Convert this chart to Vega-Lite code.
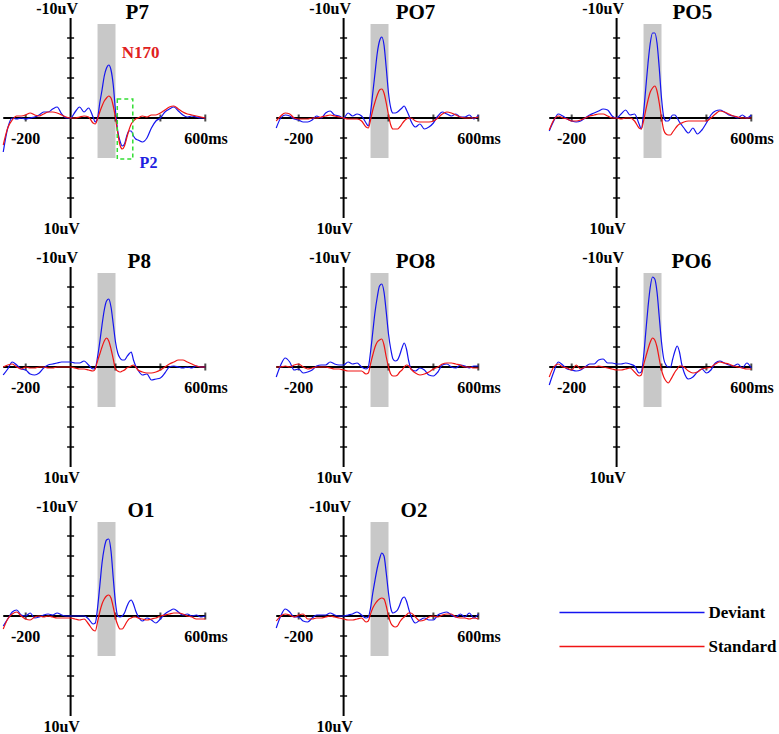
{
"$schema":"https://vega.github.io/schema/vega-lite/v6.json",
"background":"white",
"padding":0,
"config":{"view":{"stroke":null},"axis":{"disable":true},
"legend":{"orient":"none","legendX":557,"legendY":603,"padding":0,"symbolType":"M-10.36,0H10.36","symbolSize":196,"symbolOffset":65.5,"symbolStrokeWidth":1.5,"labelFont":"Liberation Serif","labelFontWeight":"bold","labelFontSize":17,"labelColor":"#000","labelOffset":68,"rowPadding":16}},
"datasets":{
"box":[{"a":120,"b":200,"lo":-9.4,"hi":4.0}],
"ax":[{"x1":-300,"x2":600,"y1":0,"y2":0},{"x1":0,"x2":0,"y1":-10,"y2":10}],
"yt":[{"v":-8},{"v":-6},{"v":-4},{"v":-2},{"v":2},{"v":4},{"v":6},{"v":8}],
"xt":[{"t":-200},{"t":200},{"t":400},{"t":600}],
"lab":[{"t":-60,"v":-10.4,"s":"-10uV"},{"t":-40,"v":11.6,"s":"10uV"},{"t":-200,"v":2.6,"s":"-200"},{"t":603,"v":2.6,"s":"600ms"}],
"erp":[
{"c":"P7","t":-300,"d":3.4,"s":2.7},{"c":"P7","t":-280,"d":1.0,"s":1.0},{"c":"P7","t":-260,"d":0,"s":0.2},{"c":"P7","t":-240,"d":0.1,"s":-0.2},{"c":"P7","t":-220,"d":0,"s":-0.2},{"c":"P7","t":-200,"d":0.1,"s":-0.3},{"c":"P7","t":-180,"d":0,"s":-0.5},{"c":"P7","t":-160,"d":-0.1,"s":-0.3},{"c":"P7","t":-140,"d":-0.3,"s":-0.2},{"c":"P7","t":-120,"d":-0.6,"s":-0.4},{"c":"P7","t":-100,"d":-0.6,"s":-0.6},{"c":"P7","t":-80,"d":-0.9,"s":-0.6},{"c":"P7","t":-60,"d":-1.1,"s":-0.5},{"c":"P7","t":-40,"d":-0.4,"s":-0.3},{"c":"P7","t":-20,"d":0,"s":-0.1},{"c":"P7","t":0,"d":0,"s":0},{"c":"P7","t":20,"d":-0.6,"s":0},{"c":"P7","t":40,"d":-1.1,"s":-0.1},{"c":"P7","t":60,"d":-0.6,"s":-0.2},{"c":"P7","t":80,"d":-1.0,"s":-0.1},{"c":"P7","t":100,"d":-0.1,"s":0.5},{"c":"P7","t":110,"d":0.4,"s":0.6},{"c":"P7","t":120,"d":0,"s":0.1},{"c":"P7","t":130,"d":-1.5,"s":-0.6},{"c":"P7","t":140,"d":-2.8,"s":-1.2},{"c":"P7","t":150,"d":-4.2,"s":-1.7},{"c":"P7","t":160,"d":-5.0,"s":-2.0},{"c":"P7","t":170,"d":-5.3,"s":-2.2},{"c":"P7","t":180,"d":-4.8,"s":-2.0},{"c":"P7","t":190,"d":-3.3,"s":-1.2},{"c":"P7","t":200,"d":-0.7,"s":0},{"c":"P7","t":210,"d":1.3,"s":1.5},{"c":"P7","t":220,"d":2.3,"s":2.7},{"c":"P7","t":230,"d":2.8,"s":3.1},{"c":"P7","t":240,"d":2.6,"s":2.8},{"c":"P7","t":250,"d":1.8,"s":2.0},{"c":"P7","t":260,"d":1.3,"s":1.2},{"c":"P7","t":270,"d":1.3,"s":0.6},{"c":"P7","t":280,"d":1.8,"s":0.3},{"c":"P7","t":290,"d":2.1,"s":0.1},{"c":"P7","t":300,"d":2.2,"s":0},{"c":"P7","t":320,"d":2.4,"s":-0.2},{"c":"P7","t":340,"d":2.0,"s":-0.1},{"c":"P7","t":360,"d":1.0,"s":-0.3},{"c":"P7","t":380,"d":0.3,"s":-0.3},{"c":"P7","t":400,"d":0,"s":-0.5},{"c":"P7","t":420,"d":-0.6,"s":-0.8},{"c":"P7","t":440,"d":-0.9,"s":-1.1},{"c":"P7","t":460,"d":-1.1,"s":-1.2},{"c":"P7","t":480,"d":-0.7,"s":-0.9},{"c":"P7","t":500,"d":-0.3,"s":-0.6},{"c":"P7","t":520,"d":-0.1,"s":-0.4},{"c":"P7","t":540,"d":-0.2,"s":-0.3},{"c":"P7","t":560,"d":-0.1,"s":-0.2},{"c":"P7","t":580,"d":0,"s":-0.1},{"c":"P7","t":600,"d":0,"s":0},
{"c":"PO7","t":-300,"d":1.0,"s":0.3},{"c":"PO7","t":-280,"d":0,"s":-0.2},{"c":"PO7","t":-260,"d":-0.3,"s":-0.5},{"c":"PO7","t":-240,"d":-0.2,"s":-0.4},{"c":"PO7","t":-220,"d":0.1,"s":0},{"c":"PO7","t":-200,"d":0.2,"s":0.1},{"c":"PO7","t":-180,"d":0.4,"s":0.1},{"c":"PO7","t":-160,"d":0.4,"s":0.1},{"c":"PO7","t":-140,"d":0.2,"s":0},{"c":"PO7","t":-120,"d":-0.2,"s":0},{"c":"PO7","t":-100,"d":0,"s":-0.1},{"c":"PO7","t":-80,"d":-0.5,"s":-0.2},{"c":"PO7","t":-60,"d":-0.7,"s":-0.3},{"c":"PO7","t":-40,"d":-0.3,"s":-0.2},{"c":"PO7","t":-20,"d":-0.2,"s":-0.1},{"c":"PO7","t":0,"d":0,"s":0},{"c":"PO7","t":20,"d":-0.5,"s":0.1},{"c":"PO7","t":40,"d":-0.2,"s":0.1},{"c":"PO7","t":60,"d":-0.4,"s":0.1},{"c":"PO7","t":80,"d":-0.2,"s":0.3},{"c":"PO7","t":100,"d":0.5,"s":0.9},{"c":"PO7","t":110,"d":0.8,"s":1.0},{"c":"PO7","t":120,"d":-0.5,"s":0.2},{"c":"PO7","t":130,"d":-2.5,"s":-0.8},{"c":"PO7","t":140,"d":-4.5,"s":-1.6},{"c":"PO7","t":150,"d":-6.5,"s":-2.3},{"c":"PO7","t":160,"d":-7.7,"s":-2.8},{"c":"PO7","t":170,"d":-8.1,"s":-2.9},{"c":"PO7","t":180,"d":-7.3,"s":-2.5},{"c":"PO7","t":190,"d":-5.0,"s":-1.5},{"c":"PO7","t":200,"d":-2.5,"s":-0.3},{"c":"PO7","t":210,"d":-1.0,"s":0.7},{"c":"PO7","t":220,"d":-0.5,"s":1.1},{"c":"PO7","t":230,"d":-0.5,"s":1.1},{"c":"PO7","t":240,"d":-0.6,"s":1.1},{"c":"PO7","t":250,"d":-0.8,"s":0.9},{"c":"PO7","t":260,"d":-1.0,"s":0.6},{"c":"PO7","t":270,"d":-1.2,"s":0.3},{"c":"PO7","t":280,"d":-0.8,"s":0.1},{"c":"PO7","t":290,"d":-0.3,"s":0},{"c":"PO7","t":300,"d":0.3,"s":0},{"c":"PO7","t":320,"d":0.9,"s":0.3},{"c":"PO7","t":340,"d":0.6,"s":0.4},{"c":"PO7","t":360,"d":1.1,"s":0.4},{"c":"PO7","t":380,"d":0.9,"s":0.4},{"c":"PO7","t":400,"d":0.5,"s":0.3},{"c":"PO7","t":420,"d":-0.2,"s":0},{"c":"PO7","t":440,"d":-0.6,"s":-0.4},{"c":"PO7","t":460,"d":-0.4,"s":-0.6},{"c":"PO7","t":480,"d":-0.2,"s":-0.5},{"c":"PO7","t":500,"d":-0.4,"s":-0.3},{"c":"PO7","t":520,"d":-0.1,"s":-0.1},{"c":"PO7","t":540,"d":-0.1,"s":0},{"c":"PO7","t":560,"d":-0.3,"s":0},{"c":"PO7","t":580,"d":0.1,"s":0},{"c":"PO7","t":600,"d":-0.3,"s":-0.1},
{"c":"PO5","t":-300,"d":1.3,"s":1.2},{"c":"PO5","t":-280,"d":0.3,"s":0.2},{"c":"PO5","t":-260,"d":-0.4,"s":-0.2},{"c":"PO5","t":-240,"d":-0.2,"s":0},{"c":"PO5","t":-220,"d":0.1,"s":0.1},{"c":"PO5","t":-200,"d":0.3,"s":0.3},{"c":"PO5","t":-180,"d":0.4,"s":0.3},{"c":"PO5","t":-160,"d":0.3,"s":0.2},{"c":"PO5","t":-140,"d":0,"s":0},{"c":"PO5","t":-120,"d":-0.3,"s":-0.2},{"c":"PO5","t":-100,"d":-0.5,"s":-0.3},{"c":"PO5","t":-80,"d":-0.7,"s":-0.4},{"c":"PO5","t":-60,"d":-0.9,"s":-0.4},{"c":"PO5","t":-40,"d":-0.8,"s":-0.2},{"c":"PO5","t":-20,"d":-0.2,"s":0},{"c":"PO5","t":0,"d":0,"s":0},{"c":"PO5","t":20,"d":-0.4,"s":0.1},{"c":"PO5","t":40,"d":-0.8,"s":0},{"c":"PO5","t":60,"d":-0.3,"s":0},{"c":"PO5","t":80,"d":-0.4,"s":0.3},{"c":"PO5","t":100,"d":0.6,"s":1.0},{"c":"PO5","t":110,"d":1.1,"s":1.1},{"c":"PO5","t":120,"d":-0.5,"s":0.3},{"c":"PO5","t":130,"d":-3.0,"s":-0.8},{"c":"PO5","t":140,"d":-5.5,"s":-1.8},{"c":"PO5","t":150,"d":-7.5,"s":-2.6},{"c":"PO5","t":160,"d":-8.5,"s":-3.0},{"c":"PO5","t":170,"d":-8.5,"s":-3.2},{"c":"PO5","t":180,"d":-7.5,"s":-2.7},{"c":"PO5","t":190,"d":-5.0,"s":-1.5},{"c":"PO5","t":200,"d":-2.0,"s":0},{"c":"PO5","t":210,"d":-0.1,"s":1.2},{"c":"PO5","t":220,"d":0.3,"s":1.6},{"c":"PO5","t":230,"d":0.3,"s":1.7},{"c":"PO5","t":240,"d":0,"s":1.7},{"c":"PO5","t":250,"d":-0.3,"s":1.4},{"c":"PO5","t":260,"d":-0.3,"s":1.1},{"c":"PO5","t":270,"d":0,"s":0.8},{"c":"PO5","t":280,"d":0.4,"s":0.6},{"c":"PO5","t":290,"d":0.7,"s":0.5},{"c":"PO5","t":300,"d":1.0,"s":0.4},{"c":"PO5","t":320,"d":1.5,"s":0.3},{"c":"PO5","t":340,"d":1.0,"s":0.3},{"c":"PO5","t":360,"d":1.6,"s":0.3},{"c":"PO5","t":380,"d":1.2,"s":0.3},{"c":"PO5","t":400,"d":0.5,"s":0.3},{"c":"PO5","t":420,"d":-0.3,"s":0},{"c":"PO5","t":440,"d":-0.7,"s":-0.4},{"c":"PO5","t":460,"d":-0.8,"s":-0.7},{"c":"PO5","t":480,"d":-0.6,"s":-0.6},{"c":"PO5","t":500,"d":-0.3,"s":-0.4},{"c":"PO5","t":520,"d":-0.2,"s":-0.2},{"c":"PO5","t":540,"d":0,"s":-0.1},{"c":"PO5","t":560,"d":-0.3,"s":0},{"c":"PO5","t":580,"d":0,"s":0},{"c":"PO5","t":600,"d":-0.3,"s":0},
{"c":"P8","t":-300,"d":0.8,"s":0},{"c":"P8","t":-280,"d":0.2,"s":-0.2},{"c":"P8","t":-260,"d":-0.5,"s":-0.3},{"c":"P8","t":-240,"d":-0.2,"s":0},{"c":"P8","t":-220,"d":0.2,"s":0.2},{"c":"P8","t":-200,"d":0.3,"s":0},{"c":"P8","t":-180,"d":0.7,"s":0.1},{"c":"P8","t":-160,"d":0.8,"s":0.1},{"c":"P8","t":-140,"d":0.6,"s":0},{"c":"P8","t":-120,"d":0.1,"s":0},{"c":"P8","t":-100,"d":-0.2,"s":0.1},{"c":"P8","t":-80,"d":-0.3,"s":0.1},{"c":"P8","t":-60,"d":-0.4,"s":0},{"c":"P8","t":-40,"d":-0.5,"s":0},{"c":"P8","t":-20,"d":-0.5,"s":0},{"c":"P8","t":0,"d":-0.5,"s":0},{"c":"P8","t":20,"d":-0.4,"s":0.1},{"c":"P8","t":40,"d":-0.4,"s":0.2},{"c":"P8","t":60,"d":-0.6,"s":0.2},{"c":"P8","t":80,"d":-0.2,"s":0.3},{"c":"P8","t":100,"d":0.2,"s":0.4},{"c":"P8","t":110,"d":0.1,"s":0.2},{"c":"P8","t":120,"d":-1.0,"s":-0.6},{"c":"P8","t":130,"d":-2.5,"s":-1.3},{"c":"P8","t":140,"d":-4.2,"s":-2.0},{"c":"P8","t":150,"d":-5.7,"s":-2.6},{"c":"P8","t":160,"d":-6.6,"s":-2.9},{"c":"P8","t":170,"d":-6.8,"s":-2.6},{"c":"P8","t":180,"d":-6.0,"s":-1.8},{"c":"P8","t":190,"d":-4.3,"s":-0.8},{"c":"P8","t":200,"d":-2.5,"s":0.2},{"c":"P8","t":210,"d":-1.4,"s":0.4},{"c":"P8","t":220,"d":-0.9,"s":0.5},{"c":"P8","t":230,"d":-0.7,"s":0.4},{"c":"P8","t":240,"d":-0.7,"s":0.3},{"c":"P8","t":250,"d":-1.0,"s":0.1},{"c":"P8","t":260,"d":-1.3,"s":0},{"c":"P8","t":270,"d":-1.5,"s":-0.1},{"c":"P8","t":280,"d":-0.7,"s":-0.2},{"c":"P8","t":290,"d":-0.1,"s":0},{"c":"P8","t":300,"d":0.3,"s":0.3},{"c":"P8","t":320,"d":0.8,"s":0.5},{"c":"P8","t":340,"d":0.7,"s":0.6},{"c":"P8","t":360,"d":1.3,"s":0.6},{"c":"P8","t":380,"d":1.2,"s":0.5},{"c":"P8","t":400,"d":1.1,"s":0.3},{"c":"P8","t":420,"d":0.6,"s":0},{"c":"P8","t":440,"d":0,"s":-0.3},{"c":"P8","t":460,"d":-0.1,"s":-0.5},{"c":"P8","t":480,"d":0,"s":-0.7},{"c":"P8","t":500,"d":0.1,"s":-0.7},{"c":"P8","t":520,"d":0,"s":-0.5},{"c":"P8","t":540,"d":0.1,"s":-0.3},{"c":"P8","t":560,"d":-0.1,"s":-0.1},{"c":"P8","t":580,"d":0,"s":0},{"c":"P8","t":600,"d":0,"s":0},
{"c":"PO8","t":-300,"d":1.0,"s":0},{"c":"PO8","t":-280,"d":-0.2,"s":0},{"c":"PO8","t":-260,"d":-0.9,"s":-0.1},{"c":"PO8","t":-240,"d":-0.5,"s":0},{"c":"PO8","t":-220,"d":0.3,"s":-0.2},{"c":"PO8","t":-200,"d":0.2,"s":-0.3},{"c":"PO8","t":-180,"d":0.6,"s":0},{"c":"PO8","t":-160,"d":0.5,"s":0.2},{"c":"PO8","t":-140,"d":0.3,"s":0.1},{"c":"PO8","t":-120,"d":-0.1,"s":0},{"c":"PO8","t":-100,"d":-0.2,"s":0},{"c":"PO8","t":-80,"d":-0.2,"s":0},{"c":"PO8","t":-60,"d":-0.5,"s":0.1},{"c":"PO8","t":-40,"d":-0.3,"s":0.2},{"c":"PO8","t":-20,"d":-0.2,"s":0.2},{"c":"PO8","t":0,"d":-0.2,"s":0.3},{"c":"PO8","t":20,"d":-0.5,"s":0.4},{"c":"PO8","t":40,"d":-0.3,"s":0.4},{"c":"PO8","t":60,"d":-0.4,"s":0.4},{"c":"PO8","t":80,"d":0,"s":0.4},{"c":"PO8","t":100,"d":0.2,"s":0.7},{"c":"PO8","t":110,"d":0,"s":0.6},{"c":"PO8","t":120,"d":-1.5,"s":-0.3},{"c":"PO8","t":130,"d":-3.5,"s":-1.2},{"c":"PO8","t":140,"d":-5.5,"s":-2.0},{"c":"PO8","t":150,"d":-7.0,"s":-2.5},{"c":"PO8","t":160,"d":-8.1,"s":-2.7},{"c":"PO8","t":170,"d":-8.3,"s":-2.8},{"c":"PO8","t":180,"d":-7.5,"s":-2.2},{"c":"PO8","t":190,"d":-5.5,"s":-1.0},{"c":"PO8","t":200,"d":-3.3,"s":0},{"c":"PO8","t":210,"d":-1.8,"s":0.7},{"c":"PO8","t":220,"d":-0.8,"s":0.9},{"c":"PO8","t":230,"d":-0.6,"s":0.9},{"c":"PO8","t":240,"d":-0.7,"s":0.8},{"c":"PO8","t":250,"d":-1.2,"s":0.5},{"c":"PO8","t":260,"d":-1.9,"s":0.3},{"c":"PO8","t":270,"d":-2.4,"s":0},{"c":"PO8","t":280,"d":-1.8,"s":-0.2},{"c":"PO8","t":290,"d":-0.6,"s":-0.1},{"c":"PO8","t":300,"d":0.2,"s":0.2},{"c":"PO8","t":320,"d":0.4,"s":0.6},{"c":"PO8","t":340,"d":0.1,"s":0.8},{"c":"PO8","t":360,"d":0.3,"s":0.7},{"c":"PO8","t":380,"d":0.8,"s":0.5},{"c":"PO8","t":400,"d":0.9,"s":0.2},{"c":"PO8","t":420,"d":0.5,"s":0},{"c":"PO8","t":440,"d":-0.2,"s":-0.3},{"c":"PO8","t":460,"d":-0.3,"s":-0.4},{"c":"PO8","t":480,"d":0,"s":-0.4},{"c":"PO8","t":500,"d":0.1,"s":-0.3},{"c":"PO8","t":520,"d":-0.2,"s":-0.2},{"c":"PO8","t":540,"d":-0.1,"s":0},{"c":"PO8","t":560,"d":0.1,"s":0},{"c":"PO8","t":580,"d":-0.1,"s":0.1},{"c":"PO8","t":600,"d":-0.1,"s":0.1},
{"c":"PO6","t":-300,"d":1.8,"s":1.0},{"c":"PO6","t":-280,"d":0.5,"s":0},{"c":"PO6","t":-260,"d":-0.5,"s":-0.3},{"c":"PO6","t":-240,"d":-0.2,"s":0},{"c":"PO6","t":-220,"d":0.2,"s":0.1},{"c":"PO6","t":-200,"d":0.3,"s":0.3},{"c":"PO6","t":-180,"d":0.4,"s":-0.2},{"c":"PO6","t":-160,"d":0.3,"s":0.2},{"c":"PO6","t":-140,"d":0,"s":0},{"c":"PO6","t":-120,"d":-0.3,"s":0},{"c":"PO6","t":-100,"d":-0.3,"s":0},{"c":"PO6","t":-80,"d":-0.7,"s":-0.1},{"c":"PO6","t":-60,"d":-0.8,"s":0},{"c":"PO6","t":-40,"d":-0.4,"s":0.1},{"c":"PO6","t":-20,"d":-0.4,"s":0.2},{"c":"PO6","t":0,"d":-0.3,"s":0.3},{"c":"PO6","t":20,"d":-0.3,"s":0.3},{"c":"PO6","t":40,"d":-0.4,"s":0.2},{"c":"PO6","t":60,"d":-0.3,"s":0.1},{"c":"PO6","t":80,"d":-0.1,"s":0.5},{"c":"PO6","t":100,"d":0.6,"s":0.9},{"c":"PO6","t":110,"d":0.5,"s":0.8},{"c":"PO6","t":120,"d":-1.0,"s":-0.2},{"c":"PO6","t":130,"d":-3.5,"s":-1.0},{"c":"PO6","t":140,"d":-6.0,"s":-1.8},{"c":"PO6","t":150,"d":-8.0,"s":-2.5},{"c":"PO6","t":160,"d":-9.0,"s":-2.9},{"c":"PO6","t":170,"d":-8.8,"s":-2.7},{"c":"PO6","t":180,"d":-7.5,"s":-2.0},{"c":"PO6","t":190,"d":-5.0,"s":-0.8},{"c":"PO6","t":200,"d":-2.5,"s":0.3},{"c":"PO6","t":210,"d":-0.8,"s":1.0},{"c":"PO6","t":220,"d":-0.2,"s":1.4},{"c":"PO6","t":230,"d":0,"s":1.6},{"c":"PO6","t":240,"d":0,"s":1.3},{"c":"PO6","t":250,"d":-0.8,"s":0.9},{"c":"PO6","t":260,"d":-1.6,"s":0.5},{"c":"PO6","t":270,"d":-2.1,"s":0.2},{"c":"PO6","t":280,"d":-1.5,"s":-0.1},{"c":"PO6","t":290,"d":-0.3,"s":-0.1},{"c":"PO6","t":300,"d":0.5,"s":0},{"c":"PO6","t":320,"d":1.2,"s":0.4},{"c":"PO6","t":340,"d":1.0,"s":0.6},{"c":"PO6","t":360,"d":0.5,"s":0.5},{"c":"PO6","t":380,"d":0.2,"s":0.2},{"c":"PO6","t":400,"d":0.6,"s":0.1},{"c":"PO6","t":420,"d":0.3,"s":0},{"c":"PO6","t":440,"d":-0.4,"s":-0.3},{"c":"PO6","t":460,"d":-0.6,"s":-0.5},{"c":"PO6","t":480,"d":-0.4,"s":-0.4},{"c":"PO6","t":500,"d":-0.2,"s":-0.3},{"c":"PO6","t":520,"d":-0.1,"s":-0.1},{"c":"PO6","t":540,"d":-0.3,"s":0},{"c":"PO6","t":560,"d":0.1,"s":0.1},{"c":"PO6","t":580,"d":-0.4,"s":0.2},{"c":"PO6","t":600,"d":0.1,"s":0.2},
{"c":"O1","t":-300,"d":1.0,"s":1.3},{"c":"O1","t":-280,"d":0.3,"s":0.3},{"c":"O1","t":-260,"d":-0.4,"s":-0.2},{"c":"O1","t":-240,"d":-0.6,"s":-0.4},{"c":"O1","t":-220,"d":-0.1,"s":0},{"c":"O1","t":-200,"d":0,"s":0.3},{"c":"O1","t":-180,"d":-0.3,"s":0.4},{"c":"O1","t":-160,"d":0.2,"s":0.1},{"c":"O1","t":-140,"d":0.1,"s":0},{"c":"O1","t":-120,"d":-0.1,"s":0.1},{"c":"O1","t":-100,"d":-0.2,"s":0},{"c":"O1","t":-80,"d":-0.1,"s":0.1},{"c":"O1","t":-60,"d":-0.3,"s":0.2},{"c":"O1","t":-40,"d":-0.1,"s":0.2},{"c":"O1","t":-20,"d":0,"s":0.2},{"c":"O1","t":0,"d":0,"s":0.2},{"c":"O1","t":20,"d":0,"s":0.3},{"c":"O1","t":40,"d":0,"s":0.4},{"c":"O1","t":60,"d":0,"s":0.3},{"c":"O1","t":80,"d":0.3,"s":0.8},{"c":"O1","t":100,"d":0.8,"s":1.4},{"c":"O1","t":110,"d":0.7,"s":1.5},{"c":"O1","t":120,"d":-0.8,"s":0.6},{"c":"O1","t":130,"d":-3.0,"s":-0.4},{"c":"O1","t":140,"d":-5.3,"s":-1.2},{"c":"O1","t":150,"d":-6.8,"s":-1.7},{"c":"O1","t":160,"d":-7.6,"s":-2.0},{"c":"O1","t":170,"d":-7.7,"s":-2.1},{"c":"O1","t":180,"d":-6.5,"s":-1.8},{"c":"O1","t":190,"d":-3.8,"s":-0.9},{"c":"O1","t":200,"d":-1.3,"s":0.2},{"c":"O1","t":210,"d":0,"s":0.9},{"c":"O1","t":220,"d":0.1,"s":1.3},{"c":"O1","t":230,"d":0,"s":1.3},{"c":"O1","t":240,"d":-0.3,"s":1.0},{"c":"O1","t":250,"d":-0.9,"s":0.6},{"c":"O1","t":260,"d":-1.4,"s":0.3},{"c":"O1","t":270,"d":-1.6,"s":0.2},{"c":"O1","t":280,"d":-1.2,"s":0.1},{"c":"O1","t":290,"d":-0.5,"s":0.1},{"c":"O1","t":300,"d":0,"s":0.2},{"c":"O1","t":320,"d":0.5,"s":0.3},{"c":"O1","t":340,"d":0.2,"s":0.4},{"c":"O1","t":360,"d":0.4,"s":0.3},{"c":"O1","t":380,"d":0.7,"s":0.2},{"c":"O1","t":400,"d":0.3,"s":0},{"c":"O1","t":420,"d":-0.2,"s":-0.1},{"c":"O1","t":440,"d":-0.5,"s":-0.2},{"c":"O1","t":460,"d":-0.7,"s":-0.3},{"c":"O1","t":480,"d":-0.4,"s":-0.3},{"c":"O1","t":500,"d":-0.1,"s":-0.2},{"c":"O1","t":520,"d":-0.2,"s":0},{"c":"O1","t":540,"d":0,"s":0.1},{"c":"O1","t":560,"d":-0.1,"s":0.3},{"c":"O1","t":580,"d":0.1,"s":0.3},{"c":"O1","t":600,"d":0,"s":0.3},
{"c":"O2","t":-300,"d":1.2,"s":0.5},{"c":"O2","t":-280,"d":0,"s":0},{"c":"O2","t":-260,"d":-0.7,"s":-0.2},{"c":"O2","t":-240,"d":-0.4,"s":-0.1},{"c":"O2","t":-220,"d":0.1,"s":0.1},{"c":"O2","t":-200,"d":0.1,"s":-0.1},{"c":"O2","t":-180,"d":0.5,"s":-0.2},{"c":"O2","t":-160,"d":0.6,"s":0.3},{"c":"O2","t":-140,"d":0.2,"s":0.3},{"c":"O2","t":-120,"d":-0.1,"s":0.2},{"c":"O2","t":-100,"d":-0.1,"s":0.2},{"c":"O2","t":-80,"d":-0.1,"s":0.1},{"c":"O2","t":-60,"d":-0.3,"s":0},{"c":"O2","t":-40,"d":-0.1,"s":0.1},{"c":"O2","t":-20,"d":0,"s":0.2},{"c":"O2","t":0,"d":0,"s":0.3},{"c":"O2","t":20,"d":-0.1,"s":0.4},{"c":"O2","t":40,"d":-0.2,"s":0.4},{"c":"O2","t":60,"d":-0.4,"s":0.3},{"c":"O2","t":80,"d":-0.1,"s":0.2},{"c":"O2","t":100,"d":0.2,"s":0.6},{"c":"O2","t":110,"d":0.1,"s":0.5},{"c":"O2","t":120,"d":-0.8,"s":-0.2},{"c":"O2","t":130,"d":-2.3,"s":-0.8},{"c":"O2","t":140,"d":-3.6,"s":-1.2},{"c":"O2","t":150,"d":-4.8,"s":-1.5},{"c":"O2","t":160,"d":-5.7,"s":-1.7},{"c":"O2","t":170,"d":-6.3,"s":-1.8},{"c":"O2","t":180,"d":-6.0,"s":-1.7},{"c":"O2","t":190,"d":-4.3,"s":-1.0},{"c":"O2","t":200,"d":-2.3,"s":0},{"c":"O2","t":210,"d":-0.8,"s":0.7},{"c":"O2","t":220,"d":-0.3,"s":1.0},{"c":"O2","t":230,"d":-0.4,"s":1.1},{"c":"O2","t":240,"d":-0.6,"s":1.0},{"c":"O2","t":250,"d":-1.1,"s":0.6},{"c":"O2","t":260,"d":-1.7,"s":0.3},{"c":"O2","t":270,"d":-1.9,"s":0.1},{"c":"O2","t":280,"d":-1.5,"s":-0.1},{"c":"O2","t":290,"d":-0.7,"s":-0.3},{"c":"O2","t":300,"d":0,"s":-0.3},{"c":"O2","t":320,"d":0.7,"s":0.1},{"c":"O2","t":340,"d":0.4,"s":0.5},{"c":"O2","t":360,"d":0.2,"s":0.4},{"c":"O2","t":380,"d":0.4,"s":0.1},{"c":"O2","t":400,"d":0.4,"s":0},{"c":"O2","t":420,"d":-0.1,"s":0.1},{"c":"O2","t":440,"d":-0.3,"s":-0.1},{"c":"O2","t":460,"d":-0.4,"s":-0.2},{"c":"O2","t":480,"d":-0.1,"s":-0.2},{"c":"O2","t":500,"d":0.1,"s":0.1},{"c":"O2","t":520,"d":-0.2,"s":0.2},{"c":"O2","t":540,"d":0.1,"s":0.2},{"c":"O2","t":560,"d":-0.3,"s":0.3},{"c":"O2","t":580,"d":0.2,"s":0.2},{"c":"O2","t":600,"d":-0.2,"s":0.3}
]},
"concat":[
{"width":229,"height":234,"layer":[
{"data":{"name":"box"},"mark":{"type":"rect","color":"#c8c8c8"},"encoding":{"x":{"field":"a","type":"quantitative","scale":{"domain":[-310,710],"nice":false,"zero":false},"axis":null},"x2":{"field":"b"},"y":{"field":"lo","type":"quantitative","scale":{"domain":[-11.7,11.7],"nice":false,"zero":false,"reverse":true},"axis":null},"y2":{"field":"hi"}}},
{"data":{"name":"ax"},"mark":{"type":"rule","color":"#000","strokeWidth":2},"encoding":{"x":{"field":"x1","type":"quantitative"},"x2":{"field":"x2"},"y":{"field":"y1","type":"quantitative"},"y2":{"field":"y2"}}},
{"data":{"name":"yt"},"mark":{"type":"tick","orient":"horizontal","color":"#000","thickness":2},"encoding":{"x":{"datum":0,"type":"quantitative"},"y":{"field":"v","type":"quantitative"},"size":{"value":7}}},
{"data":{"name":"xt"},"mark":{"type":"tick","orient":"vertical","color":"#000","thickness":2},"encoding":{"x":{"field":"t","type":"quantitative"},"y":{"datum":0,"type":"quantitative"},"size":{"value":7}}},
{"data":{"name":"erp"},"transform":[{"filter":"datum.c=='P7'"},{"fold":["d","s"],"as":["cond","uV"]}],"mark":{"type":"line","strokeWidth":1.2,"interpolate":"monotone"},"encoding":{"x":{"field":"t","type":"quantitative"},"y":{"field":"uV","type":"quantitative"},"color":{"field":"cond","type":"nominal","scale":{"domain":["d","s"],"range":["#1414f0","#f01414"]},"legend":{"title":null,"labelExpr":"datum.label=='d'?'Deviant':'Standard'"}}}},
{"data":{"name":"lab"},"mark":{"type":"text","align":"center","baseline":"alphabetic","font":"Liberation Serif","fontWeight":"bold","fontSize":16,"color":"#000"},"encoding":{"x":{"field":"t","type":"quantitative"},"y":{"field":"v","type":"quantitative"},"text":{"field":"s"}}},
{"data":{"values":[{"s":"P7"}]},"mark":{"type":"text","align":"left","baseline":"alphabetic","font":"Liberation Serif","fontWeight":"bold","fontSize":21,"color":"#000"},"encoding":{"x":{"datum":245,"type":"quantitative"},"y":{"datum":-9.9,"type":"quantitative"},"text":{"field":"s"}}},
{"data":{"values":[{"a":208,"b":277,"lo":-1.9,"hi":4.1}]},"mark":{"type":"rect","fill":null,"stroke":"#33dd33","strokeWidth":1.5,"strokeDash":[4,3]},"encoding":{"x":{"field":"a","type":"quantitative"},"x2":{"field":"b"},"y":{"field":"lo","type":"quantitative"},"y2":{"field":"hi"}}},
{"data":{"values":[{"t":312,"v":-6.0,"s":"N170"}]},"mark":{"type":"text","align":"center","baseline":"alphabetic","font":"Liberation Serif","fontWeight":"bold","fontSize":17,"color":"#e02020"},"encoding":{"x":{"field":"t","type":"quantitative"},"y":{"field":"v","type":"quantitative"},"text":{"field":"s"}}},
{"data":{"values":[{"t":347,"v":5.0,"s":"P2"}]},"mark":{"type":"text","align":"center","baseline":"alphabetic","font":"Liberation Serif","fontWeight":"bold","fontSize":16,"color":"#2020e0"},"encoding":{"x":{"field":"t","type":"quantitative"},"y":{"field":"v","type":"quantitative"},"text":{"field":"s"}}}
]},
{"width":229,"height":234,"layer":[
{"data":{"name":"box"},"mark":{"type":"rect","color":"#c8c8c8"},"encoding":{"x":{"field":"a","type":"quantitative","scale":{"domain":[-310,710],"nice":false,"zero":false},"axis":null},"x2":{"field":"b"},"y":{"field":"lo","type":"quantitative","scale":{"domain":[-11.7,11.7],"nice":false,"zero":false,"reverse":true},"axis":null},"y2":{"field":"hi"}}},
{"data":{"name":"ax"},"mark":{"type":"rule","color":"#000","strokeWidth":2},"encoding":{"x":{"field":"x1","type":"quantitative"},"x2":{"field":"x2"},"y":{"field":"y1","type":"quantitative"},"y2":{"field":"y2"}}},
{"data":{"name":"yt"},"mark":{"type":"tick","orient":"horizontal","color":"#000","thickness":2},"encoding":{"x":{"datum":0,"type":"quantitative"},"y":{"field":"v","type":"quantitative"},"size":{"value":7}}},
{"data":{"name":"xt"},"mark":{"type":"tick","orient":"vertical","color":"#000","thickness":2},"encoding":{"x":{"field":"t","type":"quantitative"},"y":{"datum":0,"type":"quantitative"},"size":{"value":7}}},
{"data":{"name":"erp"},"transform":[{"filter":"datum.c=='PO7'"},{"fold":["d","s"],"as":["cond","uV"]}],"mark":{"type":"line","strokeWidth":1.2,"interpolate":"monotone"},"encoding":{"x":{"field":"t","type":"quantitative"},"y":{"field":"uV","type":"quantitative"},"color":{"field":"cond","type":"nominal","scale":{"domain":["d","s"],"range":["#1414f0","#f01414"]},"legend":{"title":null,"labelExpr":"datum.label=='d'?'Deviant':'Standard'"}}}},
{"data":{"name":"lab"},"mark":{"type":"text","align":"center","baseline":"alphabetic","font":"Liberation Serif","fontWeight":"bold","fontSize":16,"color":"#000"},"encoding":{"x":{"field":"t","type":"quantitative"},"y":{"field":"v","type":"quantitative"},"text":{"field":"s"}}},
{"data":{"values":[{"s":"PO7"}]},"mark":{"type":"text","align":"left","baseline":"alphabetic","font":"Liberation Serif","fontWeight":"bold","fontSize":21,"color":"#000"},"encoding":{"x":{"datum":232,"type":"quantitative"},"y":{"datum":-9.9,"type":"quantitative"},"text":{"field":"s"}}}
]},
{"width":229,"height":234,"layer":[
{"data":{"name":"box"},"mark":{"type":"rect","color":"#c8c8c8"},"encoding":{"x":{"field":"a","type":"quantitative","scale":{"domain":[-310,710],"nice":false,"zero":false},"axis":null},"x2":{"field":"b"},"y":{"field":"lo","type":"quantitative","scale":{"domain":[-11.7,11.7],"nice":false,"zero":false,"reverse":true},"axis":null},"y2":{"field":"hi"}}},
{"data":{"name":"ax"},"mark":{"type":"rule","color":"#000","strokeWidth":2},"encoding":{"x":{"field":"x1","type":"quantitative"},"x2":{"field":"x2"},"y":{"field":"y1","type":"quantitative"},"y2":{"field":"y2"}}},
{"data":{"name":"yt"},"mark":{"type":"tick","orient":"horizontal","color":"#000","thickness":2},"encoding":{"x":{"datum":0,"type":"quantitative"},"y":{"field":"v","type":"quantitative"},"size":{"value":7}}},
{"data":{"name":"xt"},"mark":{"type":"tick","orient":"vertical","color":"#000","thickness":2},"encoding":{"x":{"field":"t","type":"quantitative"},"y":{"datum":0,"type":"quantitative"},"size":{"value":7}}},
{"data":{"name":"erp"},"transform":[{"filter":"datum.c=='PO5'"},{"fold":["d","s"],"as":["cond","uV"]}],"mark":{"type":"line","strokeWidth":1.2,"interpolate":"monotone"},"encoding":{"x":{"field":"t","type":"quantitative"},"y":{"field":"uV","type":"quantitative"},"color":{"field":"cond","type":"nominal","scale":{"domain":["d","s"],"range":["#1414f0","#f01414"]},"legend":{"title":null,"labelExpr":"datum.label=='d'?'Deviant':'Standard'"}}}},
{"data":{"name":"lab"},"mark":{"type":"text","align":"center","baseline":"alphabetic","font":"Liberation Serif","fontWeight":"bold","fontSize":16,"color":"#000"},"encoding":{"x":{"field":"t","type":"quantitative"},"y":{"field":"v","type":"quantitative"},"text":{"field":"s"}}},
{"data":{"values":[{"s":"PO5"}]},"mark":{"type":"text","align":"left","baseline":"alphabetic","font":"Liberation Serif","fontWeight":"bold","fontSize":21,"color":"#000"},"encoding":{"x":{"datum":249,"type":"quantitative"},"y":{"datum":-9.9,"type":"quantitative"},"text":{"field":"s"}}}
]},
{"width":229,"height":234,"layer":[
{"data":{"name":"box"},"mark":{"type":"rect","color":"#c8c8c8"},"encoding":{"x":{"field":"a","type":"quantitative","scale":{"domain":[-310,710],"nice":false,"zero":false},"axis":null},"x2":{"field":"b"},"y":{"field":"lo","type":"quantitative","scale":{"domain":[-11.7,11.7],"nice":false,"zero":false,"reverse":true},"axis":null},"y2":{"field":"hi"}}},
{"data":{"name":"ax"},"mark":{"type":"rule","color":"#000","strokeWidth":2},"encoding":{"x":{"field":"x1","type":"quantitative"},"x2":{"field":"x2"},"y":{"field":"y1","type":"quantitative"},"y2":{"field":"y2"}}},
{"data":{"name":"yt"},"mark":{"type":"tick","orient":"horizontal","color":"#000","thickness":2},"encoding":{"x":{"datum":0,"type":"quantitative"},"y":{"field":"v","type":"quantitative"},"size":{"value":7}}},
{"data":{"name":"xt"},"mark":{"type":"tick","orient":"vertical","color":"#000","thickness":2},"encoding":{"x":{"field":"t","type":"quantitative"},"y":{"datum":0,"type":"quantitative"},"size":{"value":7}}},
{"data":{"name":"erp"},"transform":[{"filter":"datum.c=='P8'"},{"fold":["d","s"],"as":["cond","uV"]}],"mark":{"type":"line","strokeWidth":1.2,"interpolate":"monotone"},"encoding":{"x":{"field":"t","type":"quantitative"},"y":{"field":"uV","type":"quantitative"},"color":{"field":"cond","type":"nominal","scale":{"domain":["d","s"],"range":["#1414f0","#f01414"]},"legend":{"title":null,"labelExpr":"datum.label=='d'?'Deviant':'Standard'"}}}},
{"data":{"name":"lab"},"mark":{"type":"text","align":"center","baseline":"alphabetic","font":"Liberation Serif","fontWeight":"bold","fontSize":16,"color":"#000"},"encoding":{"x":{"field":"t","type":"quantitative"},"y":{"field":"v","type":"quantitative"},"text":{"field":"s"}}},
{"data":{"values":[{"s":"P8"}]},"mark":{"type":"text","align":"left","baseline":"alphabetic","font":"Liberation Serif","fontWeight":"bold","fontSize":21,"color":"#000"},"encoding":{"x":{"datum":254,"type":"quantitative"},"y":{"datum":-9.9,"type":"quantitative"},"text":{"field":"s"}}}
]},
{"width":229,"height":234,"layer":[
{"data":{"name":"box"},"mark":{"type":"rect","color":"#c8c8c8"},"encoding":{"x":{"field":"a","type":"quantitative","scale":{"domain":[-310,710],"nice":false,"zero":false},"axis":null},"x2":{"field":"b"},"y":{"field":"lo","type":"quantitative","scale":{"domain":[-11.7,11.7],"nice":false,"zero":false,"reverse":true},"axis":null},"y2":{"field":"hi"}}},
{"data":{"name":"ax"},"mark":{"type":"rule","color":"#000","strokeWidth":2},"encoding":{"x":{"field":"x1","type":"quantitative"},"x2":{"field":"x2"},"y":{"field":"y1","type":"quantitative"},"y2":{"field":"y2"}}},
{"data":{"name":"yt"},"mark":{"type":"tick","orient":"horizontal","color":"#000","thickness":2},"encoding":{"x":{"datum":0,"type":"quantitative"},"y":{"field":"v","type":"quantitative"},"size":{"value":7}}},
{"data":{"name":"xt"},"mark":{"type":"tick","orient":"vertical","color":"#000","thickness":2},"encoding":{"x":{"field":"t","type":"quantitative"},"y":{"datum":0,"type":"quantitative"},"size":{"value":7}}},
{"data":{"name":"erp"},"transform":[{"filter":"datum.c=='PO8'"},{"fold":["d","s"],"as":["cond","uV"]}],"mark":{"type":"line","strokeWidth":1.2,"interpolate":"monotone"},"encoding":{"x":{"field":"t","type":"quantitative"},"y":{"field":"uV","type":"quantitative"},"color":{"field":"cond","type":"nominal","scale":{"domain":["d","s"],"range":["#1414f0","#f01414"]},"legend":{"title":null,"labelExpr":"datum.label=='d'?'Deviant':'Standard'"}}}},
{"data":{"name":"lab"},"mark":{"type":"text","align":"center","baseline":"alphabetic","font":"Liberation Serif","fontWeight":"bold","fontSize":16,"color":"#000"},"encoding":{"x":{"field":"t","type":"quantitative"},"y":{"field":"v","type":"quantitative"},"text":{"field":"s"}}},
{"data":{"values":[{"s":"PO8"}]},"mark":{"type":"text","align":"left","baseline":"alphabetic","font":"Liberation Serif","fontWeight":"bold","fontSize":21,"color":"#000"},"encoding":{"x":{"datum":232,"type":"quantitative"},"y":{"datum":-9.9,"type":"quantitative"},"text":{"field":"s"}}}
]},
{"width":229,"height":234,"layer":[
{"data":{"name":"box"},"mark":{"type":"rect","color":"#c8c8c8"},"encoding":{"x":{"field":"a","type":"quantitative","scale":{"domain":[-310,710],"nice":false,"zero":false},"axis":null},"x2":{"field":"b"},"y":{"field":"lo","type":"quantitative","scale":{"domain":[-11.7,11.7],"nice":false,"zero":false,"reverse":true},"axis":null},"y2":{"field":"hi"}}},
{"data":{"name":"ax"},"mark":{"type":"rule","color":"#000","strokeWidth":2},"encoding":{"x":{"field":"x1","type":"quantitative"},"x2":{"field":"x2"},"y":{"field":"y1","type":"quantitative"},"y2":{"field":"y2"}}},
{"data":{"name":"yt"},"mark":{"type":"tick","orient":"horizontal","color":"#000","thickness":2},"encoding":{"x":{"datum":0,"type":"quantitative"},"y":{"field":"v","type":"quantitative"},"size":{"value":7}}},
{"data":{"name":"xt"},"mark":{"type":"tick","orient":"vertical","color":"#000","thickness":2},"encoding":{"x":{"field":"t","type":"quantitative"},"y":{"datum":0,"type":"quantitative"},"size":{"value":7}}},
{"data":{"name":"erp"},"transform":[{"filter":"datum.c=='PO6'"},{"fold":["d","s"],"as":["cond","uV"]}],"mark":{"type":"line","strokeWidth":1.2,"interpolate":"monotone"},"encoding":{"x":{"field":"t","type":"quantitative"},"y":{"field":"uV","type":"quantitative"},"color":{"field":"cond","type":"nominal","scale":{"domain":["d","s"],"range":["#1414f0","#f01414"]},"legend":{"title":null,"labelExpr":"datum.label=='d'?'Deviant':'Standard'"}}}},
{"data":{"name":"lab"},"mark":{"type":"text","align":"center","baseline":"alphabetic","font":"Liberation Serif","fontWeight":"bold","fontSize":16,"color":"#000"},"encoding":{"x":{"field":"t","type":"quantitative"},"y":{"field":"v","type":"quantitative"},"text":{"field":"s"}}},
{"data":{"values":[{"s":"PO6"}]},"mark":{"type":"text","align":"left","baseline":"alphabetic","font":"Liberation Serif","fontWeight":"bold","fontSize":21,"color":"#000"},"encoding":{"x":{"datum":245,"type":"quantitative"},"y":{"datum":-9.9,"type":"quantitative"},"text":{"field":"s"}}}
]},
{"width":229,"height":234,"layer":[
{"data":{"name":"box"},"mark":{"type":"rect","color":"#c8c8c8"},"encoding":{"x":{"field":"a","type":"quantitative","scale":{"domain":[-310,710],"nice":false,"zero":false},"axis":null},"x2":{"field":"b"},"y":{"field":"lo","type":"quantitative","scale":{"domain":[-11.7,11.7],"nice":false,"zero":false,"reverse":true},"axis":null},"y2":{"field":"hi"}}},
{"data":{"name":"ax"},"mark":{"type":"rule","color":"#000","strokeWidth":2},"encoding":{"x":{"field":"x1","type":"quantitative"},"x2":{"field":"x2"},"y":{"field":"y1","type":"quantitative"},"y2":{"field":"y2"}}},
{"data":{"name":"yt"},"mark":{"type":"tick","orient":"horizontal","color":"#000","thickness":2},"encoding":{"x":{"datum":0,"type":"quantitative"},"y":{"field":"v","type":"quantitative"},"size":{"value":7}}},
{"data":{"name":"xt"},"mark":{"type":"tick","orient":"vertical","color":"#000","thickness":2},"encoding":{"x":{"field":"t","type":"quantitative"},"y":{"datum":0,"type":"quantitative"},"size":{"value":7}}},
{"data":{"name":"erp"},"transform":[{"filter":"datum.c=='O1'"},{"fold":["d","s"],"as":["cond","uV"]}],"mark":{"type":"line","strokeWidth":1.2,"interpolate":"monotone"},"encoding":{"x":{"field":"t","type":"quantitative"},"y":{"field":"uV","type":"quantitative"},"color":{"field":"cond","type":"nominal","scale":{"domain":["d","s"],"range":["#1414f0","#f01414"]},"legend":{"title":null,"labelExpr":"datum.label=='d'?'Deviant':'Standard'"}}}},
{"data":{"name":"lab"},"mark":{"type":"text","align":"center","baseline":"alphabetic","font":"Liberation Serif","fontWeight":"bold","fontSize":16,"color":"#000"},"encoding":{"x":{"field":"t","type":"quantitative"},"y":{"field":"v","type":"quantitative"},"text":{"field":"s"}}},
{"data":{"values":[{"s":"O1"}]},"mark":{"type":"text","align":"left","baseline":"alphabetic","font":"Liberation Serif","fontWeight":"bold","fontSize":21,"color":"#000"},"encoding":{"x":{"datum":254,"type":"quantitative"},"y":{"datum":-9.9,"type":"quantitative"},"text":{"field":"s"}}}
]},
{"width":229,"height":234,"layer":[
{"data":{"name":"box"},"mark":{"type":"rect","color":"#c8c8c8"},"encoding":{"x":{"field":"a","type":"quantitative","scale":{"domain":[-310,710],"nice":false,"zero":false},"axis":null},"x2":{"field":"b"},"y":{"field":"lo","type":"quantitative","scale":{"domain":[-11.7,11.7],"nice":false,"zero":false,"reverse":true},"axis":null},"y2":{"field":"hi"}}},
{"data":{"name":"ax"},"mark":{"type":"rule","color":"#000","strokeWidth":2},"encoding":{"x":{"field":"x1","type":"quantitative"},"x2":{"field":"x2"},"y":{"field":"y1","type":"quantitative"},"y2":{"field":"y2"}}},
{"data":{"name":"yt"},"mark":{"type":"tick","orient":"horizontal","color":"#000","thickness":2},"encoding":{"x":{"datum":0,"type":"quantitative"},"y":{"field":"v","type":"quantitative"},"size":{"value":7}}},
{"data":{"name":"xt"},"mark":{"type":"tick","orient":"vertical","color":"#000","thickness":2},"encoding":{"x":{"field":"t","type":"quantitative"},"y":{"datum":0,"type":"quantitative"},"size":{"value":7}}},
{"data":{"name":"erp"},"transform":[{"filter":"datum.c=='O2'"},{"fold":["d","s"],"as":["cond","uV"]}],"mark":{"type":"line","strokeWidth":1.2,"interpolate":"monotone"},"encoding":{"x":{"field":"t","type":"quantitative"},"y":{"field":"uV","type":"quantitative"},"color":{"field":"cond","type":"nominal","scale":{"domain":["d","s"],"range":["#1414f0","#f01414"]},"legend":{"title":null,"labelExpr":"datum.label=='d'?'Deviant':'Standard'"}}}},
{"data":{"name":"lab"},"mark":{"type":"text","align":"center","baseline":"alphabetic","font":"Liberation Serif","fontWeight":"bold","fontSize":16,"color":"#000"},"encoding":{"x":{"field":"t","type":"quantitative"},"y":{"field":"v","type":"quantitative"},"text":{"field":"s"}}},
{"data":{"values":[{"s":"O2"}]},"mark":{"type":"text","align":"left","baseline":"alphabetic","font":"Liberation Serif","fontWeight":"bold","fontSize":21,"color":"#000"},"encoding":{"x":{"datum":254,"type":"quantitative"},"y":{"datum":-9.9,"type":"quantitative"},"text":{"field":"s"}}}
]}
],
"columns":3,
"bounds":"flush",
"spacing":{"row":15,"column":44}
}
